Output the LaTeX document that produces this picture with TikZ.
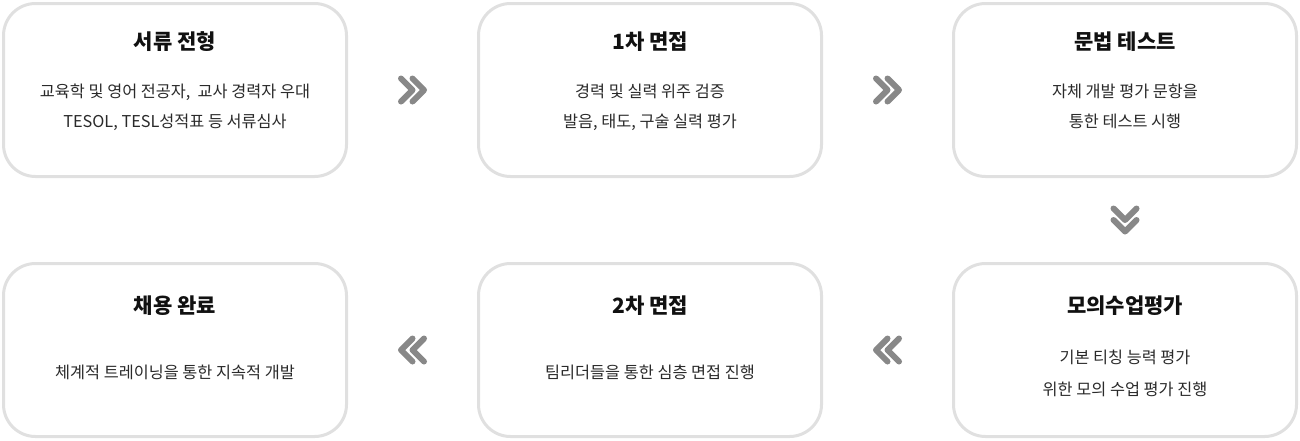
\documentclass[tikz,border=0pt]{standalone}
\usepackage{fontspec}
\setmainfont{Noto Sans CJK KR}
\usetikzlibrary{calc}
\definecolor{boxline}{HTML}{E0E0E0}
\definecolor{chev}{HTML}{888888}
\definecolor{titletext}{HTML}{111111}
\definecolor{bodytext}{HTML}{2A2A2A}
\begin{document}
\begin{tikzpicture}[x=1pt,y=-1pt,
  stagebox/.style={draw=boxline, line width=3pt, fill=white, rounded corners=32pt,
    minimum width=343pt, minimum height=173pt, inner sep=0pt, outer sep=0pt},
  ttl/.style={anchor=base, font=\fontsize{21}{25}\selectfont\bfseries, text=titletext, inner sep=0pt},
  bdy/.style={anchor=base, font=\fontsize{16.3}{19}\selectfont, text=bodytext, inner sep=0pt},
  chevline/.style={draw=chev, line width=6pt, line cap=round, line join=round},
  chevright/.pic={\path[chevline] (-11.5,-11.5) -- (0,0) -- (-11.5,11.5)
                                  (0,-11.5) -- (11.5,0) -- (0,11.5);},
  chevleft/.pic={\path[chevline] (11.5,-11.5) -- (0,0) -- (11.5,11.5)
                                 (0,-11.5) -- (-11.5,0) -- (0,11.5);},
  chevdown/.pic={\path[chevline] (-11.5,-11.5) -- (0,0) -- (11.5,-11.5)
                                 (-11.5,0) -- (0,11.5) -- (11.5,0);}
]
\useasboundingbox (0,0) rectangle (1300,440);

% boxes
\node[stagebox] (b1) at (175,90) {};
\node[stagebox] (b2) at (650,90) {};
\node[stagebox] (b3) at (1125,90) {};
\node[stagebox] (b4) at (1125,350) {};
\node[stagebox] (b5) at (650,350) {};
\node[stagebox] (b6) at (175,350) {};

% texts, top row
\node[ttl] (t1) at (175,49.1) {서류 전형};
\node[bdy] (d1a) at (175,97.9) {교육학 및 영어 전공자,\ \ 교사 경력자 우대};
\node[bdy] (d1b) at (175,127.9) {TESOL, TESL성적표 등 서류심사};

\node[ttl] (t2) at (650,49.1) {1차 면접};
\node[bdy] (d2a) at (650,97.9) {경력 및 실력 위주 검증};
\node[bdy] (d2b) at (650,127.9) {발음, 태도, 구술 실력 평가};

\node[ttl] (t3) at (1125,49.1) {문법 테스트};
\node[bdy] (d3a) at (1125,97.9) {자체 개발 평가 문항을};
\node[bdy] (d3b) at (1125,127.9) {통한 테스트 시행};

% texts, bottom row
\node[ttl] (t4) at (1125,313.1) {모의수업평가};
\node[bdy] (d4a) at (1125,363.4) {기본 티칭 능력 평가};
\node[bdy] (d4b) at (1125,395.4) {위한 모의 수업 평가 진행};

\node[ttl] (t5) at (650,313.1) {2차 면접};
\node[bdy] (d5a) at (650,378.9) {팀리더들을 통한 심층 면접 진행};

\node[ttl] (t6) at (175,313.1) {채용 완료};
\node[bdy] (d6a) at (175,378.9) {체계적 트레이닝을 통한 지속적 개발};

% chevrons between stages
\coordinate (c12) at ($(b1.east)!0.5!(b2.west)$);
\coordinate (c23) at ($(b2.east)!0.5!(b3.west)$);
\coordinate (c34) at ($(b3.south)!0.5!(b4.north)$);
\coordinate (c45) at ($(b5.east)!0.5!(b4.west)$);
\coordinate (c56) at ($(b6.east)!0.5!(b5.west)$);
\pic at (c12) {chevright};
\pic at (c23) {chevright};
\pic at (c34) {chevdown};
\pic at (c45) {chevleft};
\pic at (c56) {chevleft};
\end{tikzpicture}
\end{document}
